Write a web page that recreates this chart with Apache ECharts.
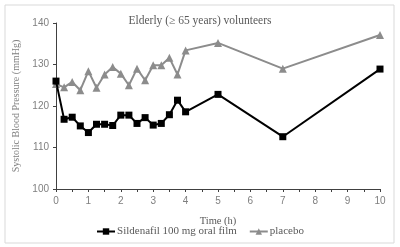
<!DOCTYPE html>
<html>
<head>
<meta charset="utf-8">
<script src="https://cdn.jsdelivr.net/npm/echarts@6/dist/echarts.min.js"></script>
<style>
  html, body { margin: 0; padding: 0; background: #fff; }
  #chart { width: 400px; height: 247px; }
</style>
</head>
<body>
<div id="chart"></div>
<script>
var times = [0, 0.25, 0.5, 0.75, 1, 1.25, 1.5, 1.75, 2, 2.25, 2.5, 2.75, 3, 3.25, 3.5, 3.75, 4, 5, 7, 10];
var sildenafil = [126.0, 116.8, 117.3, 115.2, 113.6, 115.6, 115.6, 115.3, 117.8, 117.8, 115.8, 117.2, 115.4, 115.8, 117.9, 121.4, 118.6, 122.8, 112.6, 128.9];
var placebo = [125.3, 124.5, 125.8, 123.8, 128.4, 124.4, 127.6, 129.4, 127.8, 125.0, 129.0, 126.2, 129.8, 129.8, 131.6, 127.6, 133.4, 135.2, 129.0, 137.1];

var chartDom = document.getElementById('chart');
var myChart = echarts.init(chartDom);
var option;

function pairs(vals) {
  return times.map(function (t, i) { return [t, vals[i]]; });
}

option = {
  animation: false,
  graphic: [
    {
      type: 'rect',
      shape: { x: 5, y: 5, width: 389, height: 238 },
      style: { fill: 'none', stroke: '#d9d9d9', lineWidth: 1 }
    }
  ],
  title: {
    text: 'Elderly (\u2265 65 years) volunteers',
    left: 'center',
    top: 10,
    textStyle: {
      fontFamily: 'Liberation Serif',
      fontWeight: 'normal',
      fontSize: 11.5,
      color: '#595959'
    }
  },
  grid: {
    left: 56,
    right: 20,
    top: 23,
    bottom: 58
  },
  legend: {
    bottom: 5,
    left: 'center',
    itemWidth: 18,
    itemHeight: 8,
    itemGap: 12,
    textStyle: {
      fontFamily: 'Liberation Serif',
      fontSize: 11,
      color: '#595959',
      padding: [0, 0, 0, -3]
    },
    data: [
      { name: 'Sildenafil 100 mg oral film' },
      { name: 'placebo' }
    ]
  },
  xAxis: {
    type: 'value',
    min: 0,
    max: 10,
    interval: 0.5,
    name: 'Time (h)',
    nameLocation: 'middle',
    nameGap: 27,
    nameTextStyle: {
      fontFamily: 'Liberation Serif',
      fontSize: 10.5,
      color: '#595959'
    },
    axisLine: { lineStyle: { color: '#404040', width: 1 } },
    axisTick: { length: 3, lineStyle: { color: '#404040' } },
    axisLabel: {
      fontFamily: 'Liberation Sans',
      fontSize: 10,
      color: '#7f7f7f',
      margin: 7,
      formatter: function (v) { return v % 1 === 0 ? String(v) : ''; }
    },
    splitLine: { show: false }
  },
  yAxis: {
    type: 'value',
    min: 100,
    max: 140,
    interval: 10,
    name: 'Systolic Blood Pressure (mmHg)',
    nameLocation: 'middle',
    nameGap: 29,
    nameTextStyle: {
      fontFamily: 'Liberation Serif',
      fontSize: 10,
      color: '#7f7f7f'
    },
    axisLine: { show: true, lineStyle: { color: '#404040', width: 1 } },
    axisTick: { show: true, length: 3, lineStyle: { color: '#404040' } },
    axisLabel: {
      fontFamily: 'Liberation Sans',
      fontSize: 10,
      color: '#7f7f7f',
      margin: 7
    },
    splitLine: { show: false }
  },
  series: [
    {
      name: 'Sildenafil 100 mg oral film',
      type: 'line',
      data: pairs(sildenafil),
      symbol: 'rect',
      symbolSize: 7,
      lineStyle: { color: '#000', width: 2 },
      itemStyle: { color: '#000' },
      z: 3
    },
    {
      name: 'placebo',
      type: 'line',
      data: pairs(placebo),
      symbol: 'triangle',
      symbolSize: 8,
      lineStyle: { color: '#8c8c8c', width: 2 },
      itemStyle: { color: '#8c8c8c' },
      z: 2
    }
  ]
};

option && myChart.setOption(option);
</script>
</body>
</html>
